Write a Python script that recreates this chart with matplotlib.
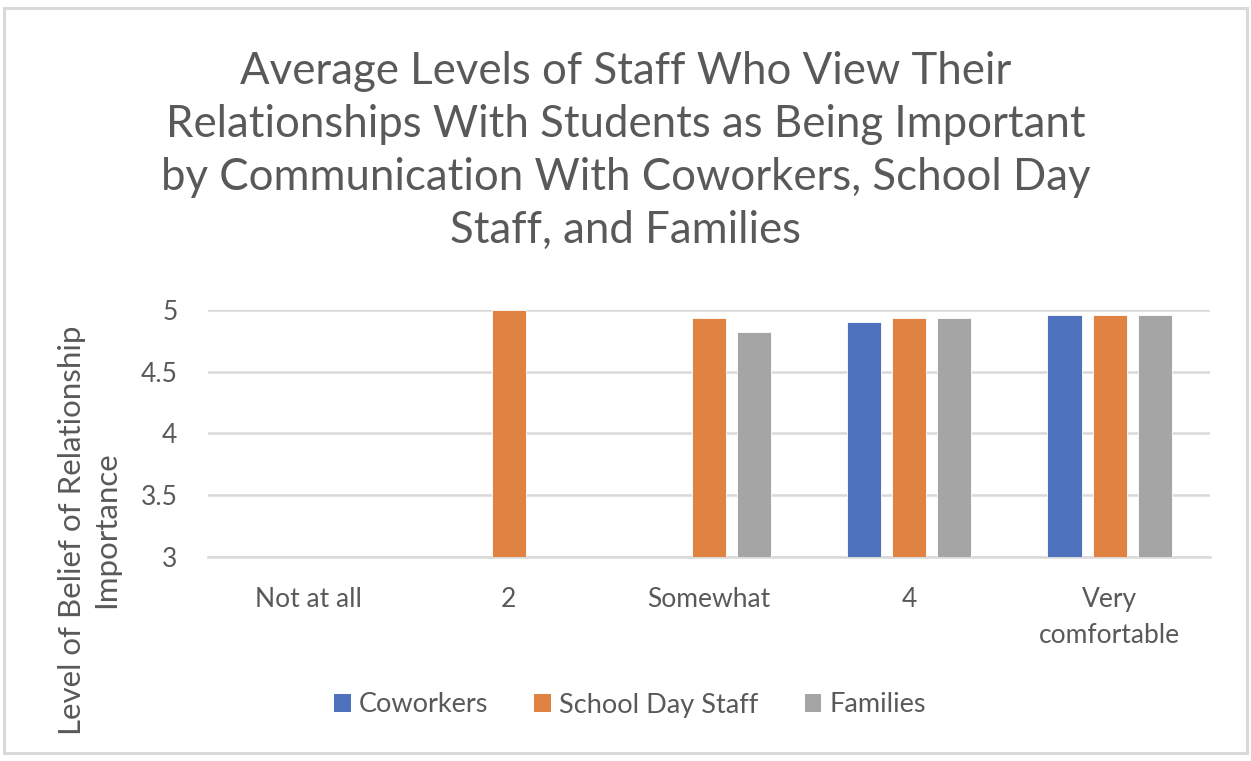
import numpy as np
import matplotlib.pyplot as plt
from matplotlib.patches import Rectangle, Patch

categories = ["Not at all", "2", "Somewhat", "4", "Very\ncomfortable"]
series_names = ["Coworkers", "School Day Staff", "Families"]
coworkers = [np.nan, np.nan, np.nan, 4.90, 4.96]
school_day_staff = [np.nan, 5.00, 4.93, 4.93, 4.96]
families = [np.nan, np.nan, 4.82, 4.93, 4.96]
y_ticks = [3, 3.5, 4, 4.5, 5]

colors = ["#4E72BD", "#DF8242", "#A5A5A5"]
text_color = "#595959"
grid_color = "#D9D9D9"

plt.rcParams["font.family"] = ["Lato", "DejaVu Sans"]

fig = plt.figure(figsize=(12.51, 7.61), dpi=100)
ax = fig.add_axes([0.1663, 0.268, 0.8007, 0.325])

x = np.arange(len(categories))
width = 0.17
offsets = [-0.225, 0.0, 0.225]
base = y_ticks[0]
for values, offset, color in zip([coworkers, school_day_staff, families], offsets, colors):
    heights = np.array(values) - base
    ax.bar(x + offset, heights, width, bottom=base, color=color,
           edgecolor="white", linewidth=0.6, zorder=3)

ax.set_xlim(-0.5, len(categories) - 0.5)
ax.set_ylim(3, 5)
ax.set_yticks(y_ticks)
ax.set_yticklabels([f"{t:g}" for t in y_ticks])
ax.set_xticks(x)
ax.set_xticklabels(categories, linespacing=1.55)
ax.tick_params(axis="both", length=0, colors=text_color, labelsize=19)
ax.tick_params(axis="y", pad=22)
ax.tick_params(axis="x", pad=21.5)
ax.yaxis.grid(True, color=grid_color, linewidth=1.8, zorder=0)
for side in ["top", "right", "left"]:
    ax.spines[side].set_visible(False)
ax.spines["bottom"].set_color(grid_color)
ax.spines["bottom"].set_linewidth(1.8)
ax.spines["bottom"].set_zorder(1)

# axis title placed in figure coordinates so both lines sit left of the ticks
fig.text(89 / 1251, 1 - 530 / 761, "Level of Belief of Relationship\nImportance",
         rotation=90, ha="center", va="center", fontsize=22.5,
         color=text_color, linespacing=1.3)

fig.text(0.5, 1 - 151 / 761,
         "Average Levels of Staff Who View Their\n"
         "Relationships With Students as Being Important\n"
         "by Communication With Coworkers, School Day\n"
         "Staff, and Families",
         ha="center", va="center", fontsize=31.5, color=text_color, linespacing=1.37)

handles = [Patch(facecolor=c, edgecolor="none") for c in colors]
fig.legend(handles, series_names, loc="center", bbox_to_anchor=(630 / 1251, 1 - 705 / 761),
           ncol=3, frameon=False, fontsize=19.5, labelcolor=text_color,
           handlelength=0.62, handleheight=0.62, handletextpad=0.3, columnspacing=1.7)

fig.patches.append(Rectangle((4 / 1251, 8 / 761), 1243 / 1251, 745 / 761,
                             transform=fig.transFigure, fill=False,
                             edgecolor=grid_color, linewidth=2.2))

fig.savefig("out.png", dpi=100)
